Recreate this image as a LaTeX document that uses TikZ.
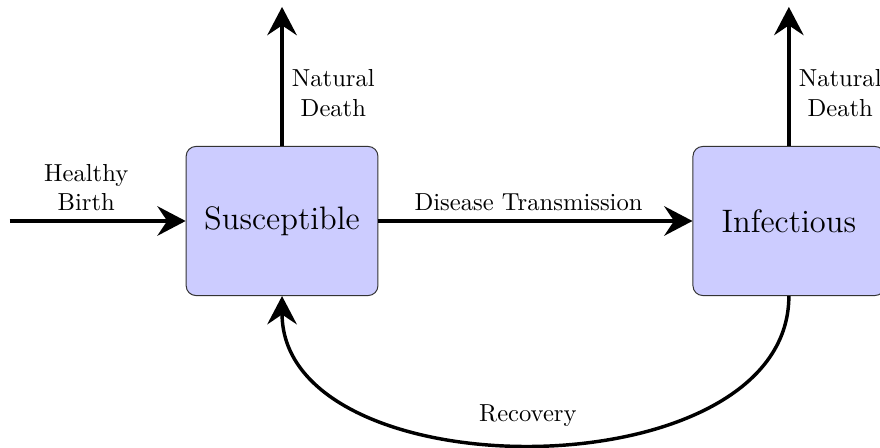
\documentclass[tikz,border=0pt]{standalone}
\usepackage{amsmath}
\usepackage{tikz}
\usetikzlibrary{arrows.meta, positioning}

\begin{document}
\begin{tikzpicture}[
    % Styles
    compartment/.style={rectangle, draw=black!80, fill=blue!20, rounded corners=4pt, minimum width=2.74cm, minimum height=2.13cm, align=center, font=\fontsize{13.2}{16}\selectfont},
    arrow/.style={-{Stealth[length=11.5pt, width=12pt, inset=4pt]}, line width=1.4pt, draw=black},
    lbl/.style={align=center, font=\normalsize}
]
\useasboundingbox (0,0) rectangle (12.571,6.386);

% 1. COMPARTMENTS
\node[compartment] (sus) at (4.029, 3.229) {Susceptible};
\node[compartment, right=4.486cm of sus] (inf) {Infectious};

% 2. OPEN ENDS
\coordinate[left=2.514cm of sus.west] (birth);
\coordinate[above=1.986cm of sus.north] (sus_death);
\coordinate[above=1.986cm of inf.north] (inf_death);

% CONNECTING ARROWS
\draw[arrow] (birth) -- node[lbl, above, pos=0.435] {Healthy\\Birth} (sus);
\draw[arrow] (sus.north) -- node[lbl, right, pos=0.38] {Natural\\Death} (sus_death);
\draw[arrow] (inf.north) -- node[lbl, right, pos=0.38] {Natural\\Death} (inf_death);
\draw[arrow] (sus) -- node[lbl, above, pos=0.478] {Disease Transmission} (inf);
\draw[arrow] (inf.south) to[out=-90, in=-90] node[lbl, above=3pt, pos=0.51] {Recovery} (sus.south);

\end{tikzpicture}
\end{document}
